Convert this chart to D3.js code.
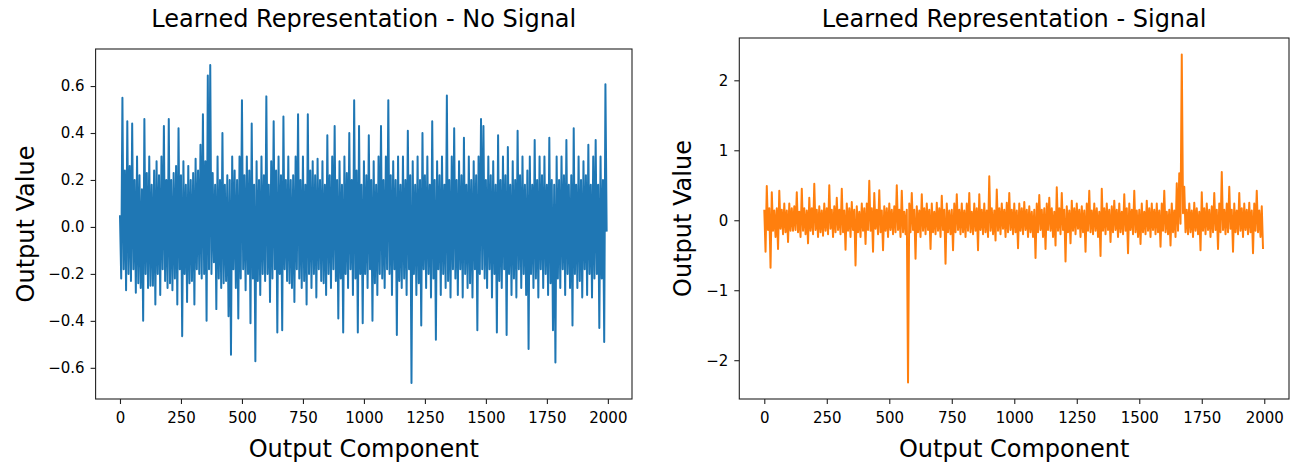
<!DOCTYPE html>
<html>
<head>
<meta charset="utf-8">
<script src="https://cdn.jsdelivr.net/npm/d3@7"></script>
<style>
	body { margin: 0; background: #fff; }
	text { font-family: "DejaVu Sans", sans-serif; fill: #000; }
</style>
</head>
<body>
<svg id="chart" width="1296" height="464"></svg>
<script>

// output components 0..1999, values read every 5th component off the picture
const componentCount = 2000;
const componentStep = 5;

const noSignalValues = [
	0.05,-0.22, 0.55,-0.18, 0.24,-0.27, 0.45,-0.20, 0.26,-0.23, 0.44,-0.18, 0.20,-0.28, 0.30,-0.24, 0.22,-0.26, 0.16,-0.40,
	0.46,-0.20, 0.23,-0.26, 0.30,-0.25, 0.18,-0.25, 0.24,-0.33, 0.28,-0.20, 0.22,-0.29, 0.30,-0.18, 0.43,-0.23, 0.20,-0.26,
	0.46,-0.24, 0.20,-0.27, 0.23,-0.22, 0.26,-0.33, 0.42,-0.18, 0.22,-0.465, 0.28,-0.20, 0.18,-0.32, 0.26,-0.24, 0.20,-0.23,
	0.23,-0.33, 0.29,-0.18, 0.24,-0.20, 0.35,-0.22, 0.48,-0.20, 0.28,-0.40, 0.645,-0.18, 0.69,-0.20, 0.23,-0.15, 0.18,-0.35,
	0.30,-0.22, 0.20,-0.26, 0.40,-0.24, 0.18,-0.23, 0.22,-0.38, 0.20,-0.544, 0.30,-0.18, 0.24,-0.26, 0.20,-0.39, 0.30,-0.22,
	0.54,-0.18, 0.22,-0.27, 0.30,-0.20, 0.24,-0.41, 0.44,-0.22, 0.18,-0.572, 0.28,-0.23, 0.20,-0.29, 0.30,-0.20, 0.22,-0.23,
	0.556,-0.20, 0.18,-0.32, 0.28,-0.22, 0.45,-0.18, 0.24,-0.45, 0.30,-0.20, 0.22,-0.44, 0.47,-0.18, 0.20,-0.23, 0.30,-0.24,
	0.20,-0.26, 0.22,-0.32, 0.30,-0.18, 0.48,-0.22, 0.20,-0.26, 0.30,-0.23, 0.18,-0.33, 0.48,-0.20, 0.24,-0.26, 0.28,-0.20,
	0.22,-0.30, 0.29,-0.18, 0.20,-0.23, 0.28,-0.24, 0.18,-0.29, 0.39,-0.20, 0.22,-0.26, 0.30,-0.18, 0.43,-0.23, 0.20,-0.39,
	0.28,-0.22, 0.18,-0.45, 0.30,-0.20, 0.23,-0.26, 0.40,-0.18, 0.20,-0.29, 0.54,-0.22, 0.24,-0.45, 0.43,-0.20, 0.18,-0.41,
	0.28,-0.20, 0.22,-0.26, 0.39,-0.18, 0.20,-0.40, 0.28,-0.24, 0.18,-0.29, 0.30,-0.20, 0.43,-0.22, 0.20,-0.26, 0.30,-0.18,
	0.54,-0.20, 0.22,-0.29, 0.28,-0.18, 0.20,-0.46, 0.30,-0.23, 0.18,-0.26, 0.30,-0.22, 0.20,-0.29, 0.41,-0.18, 0.22,-0.665,
	0.28,-0.20, 0.18,-0.29, 0.30,-0.24, 0.20,-0.42, 0.40,-0.18, 0.22,-0.26, 0.30,-0.20, 0.18,-0.30, 0.45,-0.22, 0.20,-0.48,
	0.28,-0.18, 0.22,-0.29, 0.30,-0.20, 0.18,-0.26, 0.56,-0.23, 0.20,-0.30, 0.30,-0.18, 0.42,-0.22, 0.20,-0.29, 0.28,-0.18,
	0.22,-0.30, 0.38,-0.20, 0.18,-0.26, 0.30,-0.24, 0.20,-0.30, 0.28,-0.18, 0.22,-0.44, 0.30,-0.20, 0.46,-0.18, 0.43,-0.22,
	0.20,-0.26, 0.30,-0.18, 0.22,-0.30, 0.28,-0.20, 0.18,-0.45, 0.39,-0.23, 0.20,-0.26, 0.30,-0.18, 0.22,-0.46, 0.34,-0.20,
	0.18,-0.29, 0.28,-0.22, 0.20,-0.30, 0.41,-0.18, 0.22,-0.26, 0.30,-0.20, 0.18,-0.29, 0.24,-0.52, 0.30,-0.20, 0.18,-0.26,
	0.37,-0.22, 0.20,-0.30, 0.30,-0.18, 0.22,-0.26, 0.30,-0.20, 0.18,-0.29, 0.38,-0.24, 0.20,-0.44, 0.18,-0.577, 0.30,-0.22,
	0.20,-0.26, 0.30,-0.18, 0.22,-0.29, 0.37,-0.20, 0.18,-0.26, 0.22,-0.42, 0.42,-0.20, 0.18,-0.26, 0.30,-0.23, 0.20,-0.30,
	0.28,-0.18, 0.22,-0.29, 0.35,-0.20, 0.18,-0.30, 0.30,-0.22, 0.37,-0.20, 0.18,-0.43, 0.30,-0.22, 0.20,-0.49, 0.608,-0.02
];

const signalValues = [
	0.15,-0.45, 0.49,-0.14, 0.17,-0.68, 0.40,-0.15, 0.14,-0.24, 0.17,-0.41, 0.42,-0.12, 0.15,-0.20, 0.24,-0.17, 0.14,-0.31,
	0.24,-0.15, 0.17,-0.15, 0.20,-0.14, 0.40,-0.17, 0.12,-0.24, 0.45,-0.15, 0.17,-0.20, 0.14,-0.33, 0.32,-0.15, 0.17,-0.20,
	0.52,-0.14, 0.15,-0.24, 0.20,-0.17, 0.14,-0.22, 0.24,-0.15, 0.17,-0.20, 0.50,-0.12, 0.15,-0.24, 0.20,-0.17, 0.32,-0.14,
	0.15,-0.20, 0.45,-0.17, 0.14,-0.42, 0.24,-0.15, 0.17,-0.24, 0.26,-0.14, 0.15,-0.645, 0.20,-0.17, 0.12,-0.24, 0.24,-0.15,
	0.17,-0.34, 0.24,-0.14, 0.565,-0.15, 0.17,-0.45, 0.39,-0.12, 0.15,-0.20, 0.43,-0.17, 0.14,-0.43, 0.20,-0.15, 0.17,-0.24,
	0.24,-0.14, 0.15,-0.20, 0.20,-0.17, 0.50,-0.14, 0.15,-0.24, 0.42,-0.17, 0.12,-0.20, 0.15,-2.32, 0.24,-0.17, 0.39,-0.14,
	0.15,-0.55, 0.20,-0.17, 0.14,-0.24, 0.37,-0.15, 0.17,-0.20, 0.24,-0.14, 0.15,-0.41, 0.24,-0.17, 0.12,-0.20, 0.25,-0.15,
	0.17,-0.24, 0.35,-0.14, 0.15,-0.62, 0.24,-0.17, 0.14,-0.20, 0.15,-0.43, 0.24,-0.17, 0.37,-0.14, 0.15,-0.20, 0.24,-0.17,
	0.14,-0.24, 0.24,-0.15, 0.39,-0.17, 0.12,-0.20, 0.24,-0.15, 0.17,-0.43, 0.37,-0.14, 0.15,-0.20, 0.24,-0.17, 0.14,-0.24,
	0.63,-0.15, 0.17,-0.20, 0.14,-0.29, 0.44,-0.15, 0.17,-0.20, 0.24,-0.12, 0.15,-0.24, 0.25,-0.17, 0.39,-0.14, 0.15,-0.20,
	0.24,-0.17, 0.14,-0.40, 0.24,-0.15, 0.17,-0.20, 0.26,-0.14, 0.15,-0.24, 0.20,-0.17, 0.12,-0.24, 0.15,-0.54, 0.24,-0.17,
	0.36,-0.14, 0.15,-0.24, 0.17,-0.41, 0.24,-0.14, 0.32,-0.15, 0.17,-0.24, 0.12,-0.36, 0.47,-0.15, 0.17,-0.20, 0.39,-0.14,
	0.15,-0.59, 0.20,-0.17, 0.14,-0.33, 0.28,-0.15, 0.17,-0.20, 0.24,-0.12, 0.15,-0.24, 0.20,-0.17, 0.14,-0.45, 0.24,-0.15,
	0.42,-0.17, 0.14,-0.20, 0.24,-0.15, 0.17,-0.24, 0.12,-0.51, 0.45,-0.15, 0.17,-0.20, 0.24,-0.14, 0.15,-0.31, 0.20,-0.17,
	0.28,-0.14, 0.15,-0.24, 0.24,-0.17, 0.12,-0.20, 0.37,-0.15, 0.17,-0.47, 0.24,-0.14, 0.15,-0.20, 0.42,-0.17, 0.14,-0.24,
	0.15,-0.34, 0.24,-0.17, 0.12,-0.20, 0.28,-0.15, 0.17,-0.24, 0.24,-0.14, 0.15,-0.20, 0.24,-0.17, 0.14,-0.38, 0.24,-0.15,
	0.42,-0.17, 0.12,-0.20, 0.15,-0.36, 0.24,-0.17, 0.14,-0.24, 0.53,-0.15, 0.67,-0.05, 2.37,0.10, 0.48,-0.17, 0.15,-0.20,
	0.24,-0.17, 0.14,-0.24, 0.25,-0.15, 0.17,-0.20, 0.12,-0.43, 0.40,-0.15, 0.17,-0.20, 0.24,-0.14, 0.15,-0.24, 0.20,-0.17,
	0.39,-0.14, 0.15,-0.41, 0.24,-0.17, 0.69,-0.14, 0.15,-0.20, 0.24,-0.17, 0.48,-0.12, 0.15,-0.45, 0.24,-0.17, 0.14,-0.20,
	0.39,-0.15, 0.17,-0.24, 0.24,-0.14, 0.15,-0.20, 0.25,-0.17, 0.14,-0.47, 0.24,-0.15, 0.42,-0.17, 0.14,-0.24, 0.20,-0.41
];

const xTicks = [0, 250, 500, 750, 1000, 1250, 1500, 1750, 2000];
const noSignalTicks = [-0.6, -0.4, -0.2, 0.0, 0.2, 0.4, 0.6];
const signalTicks = [-2, -1, 0, 1, 2];

const panels = [
	{
		title: "Learned Representation - No Signal",
		values: noSignalValues,
		yTicks: noSignalTicks,
		yFormat: d3.format(".1f"),
		color: "#1f77b4",
		box: { left: 95.6, right: 632, top: 49, bottom: 399 },
		yLabelX: 34
	},
	{
		title: "Learned Representation - Signal",
		values: signalValues,
		yTicks: signalTicks,
		yFormat: d3.format("d"),
		color: "#ff7f0e",
		box: { left: 739.3, right: 1289, top: 38, bottom: 399 },
		yLabelX: 691
	}
];

const svg = d3.select("#chart");

// matplotlib style 5% margins
function padded(extent) {
	const pad = (extent[1] - extent[0]) * 0.05;
	return [extent[0] - pad, extent[1] + pad];
}

panels.forEach((panel, k) => {
	const b = panel.box;
	const points = panel.values.map((v, i) => ({ x: i * componentStep, y: v }));

	const x = d3.scaleLinear()
		.domain(padded([0, componentCount - 1]))
		.range([b.left, b.right]);

	const y = d3.scaleLinear()
		.domain(padded(d3.extent(panel.values)))
		.range([b.bottom, b.top]);

	const g = svg.append("g");

	g.append("clipPath")
		.attr("id", "clip-" + k)
	  .append("rect")
		.attr("x", b.left)
		.attr("y", b.top)
		.attr("width", b.right - b.left)
		.attr("height", b.bottom - b.top);

	const line = d3.line()
		.x(d => x(d.x))
		.y(d => y(d.y));

	g.append("path")
		.attr("clip-path", "url(#clip-" + k + ")")
		.attr("d", line(points))
		.attr("fill", "none")
		.attr("stroke", panel.color)
		.attr("stroke-width", 2)
		.attr("stroke-linejoin", "round");

	g.append("rect")
		.attr("x", b.left)
		.attr("y", b.top)
		.attr("width", b.right - b.left)
		.attr("height", b.bottom - b.top)
		.attr("fill", "none")
		.attr("stroke", "#222")
		.attr("stroke-width", 1.1);

	const xAxis = g.append("g")
		.attr("transform", "translate(0," + b.bottom + ")")
		.call(d3.axisBottom(x).tickValues(xTicks).tickFormat(d3.format("d")).tickSize(5).tickPadding(8).tickSizeOuter(0));

	const yAxis = g.append("g")
		.attr("transform", "translate(" + b.left + ",0)")
		.call(d3.axisLeft(y).tickValues(panel.yTicks).tickFormat(panel.yFormat).tickSize(5).tickPadding(6).tickSizeOuter(0));

	[xAxis, yAxis].forEach(ax => {
		ax.select(".domain").remove();
		ax.selectAll("line").attr("stroke", "#222").attr("stroke-width", 1.1);
		ax.selectAll("text")
			.style("font-family", "'DejaVu Sans', sans-serif")
			.style("font-size", "15px")
			.attr("fill", "#000");
	});

	g.append("text")
		.attr("x", (b.left + b.right) / 2)
		.attr("y", 27)
		.attr("text-anchor", "middle")
		.style("font-size", "24px")
		.text(panel.title);

	g.append("text")
		.attr("x", (b.left + b.right) / 2)
		.attr("y", 457)
		.attr("text-anchor", "middle")
		.style("font-size", "24px")
		.text("Output Component");

	g.append("text")
		.attr("transform", "translate(" + panel.yLabelX + "," + ((b.top + b.bottom) / 2) + ") rotate(-90)")
		.attr("text-anchor", "middle")
		.style("font-size", "24px")
		.text("Output Value");
});

</script>
</body>
</html>
